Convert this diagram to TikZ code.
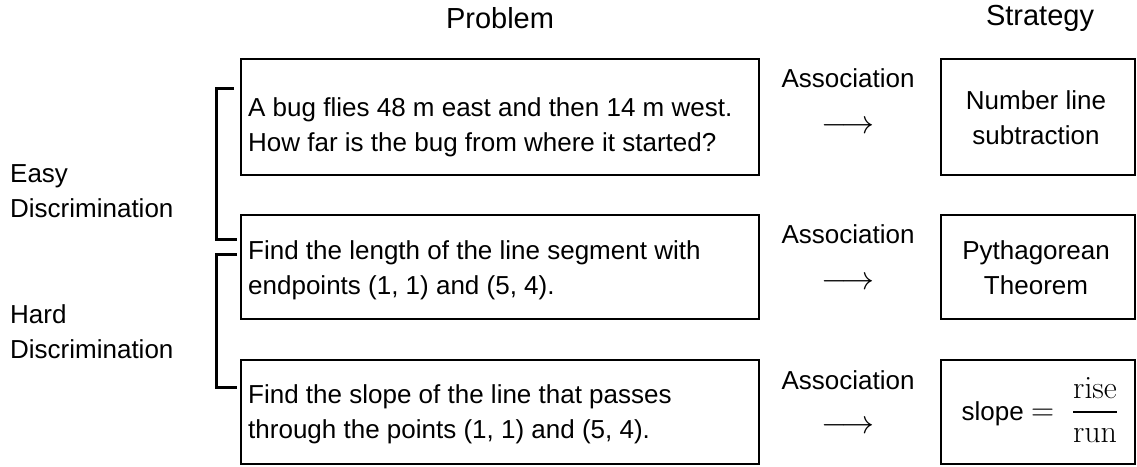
\RequirePackage{fix-cm}
\documentclass[tikz,border=0pt]{standalone}
\usepackage{amsmath}
\usepackage[no-math]{fontspec}
\setmainfont{Liberation Sans}
\begin{document}
\begin{tikzpicture}[x=1pt,y=-1pt,
  box/.style={draw, line width=2pt, inner sep=0pt},
  txt/.style={font=\fontsize{26}{35}\selectfont, inner sep=0pt},
  head/.style={font=\fontsize{29}{35}\selectfont, inner sep=0pt},
  arr/.style={font=\fontsize{33}{35}\selectfont, inner sep=0pt},
  brk/.style={line width=3pt}]
\useasboundingbox (0,0) rectangle (1137,466);

% headers
\node[head] (hp) at (500,18) {Problem};
\node[head] (hs) at (1040,18) {Strategy};

% problem boxes
\node[box, minimum width=518pt, minimum height=116pt] (p1) at (500,117) {};
\node[box, minimum width=518pt, minimum height=104pt] (p2) at (500,267) {};
\node[box, minimum width=518pt, minimum height=104pt] (p3) at (500,412) {};

\node[txt, anchor=west, align=left] (p1t) at (248,127.5) {A bug flies 48 m east and then 14 m west.\\How far is the bug from where it started?};
\node[txt, anchor=west, align=left] (p2t) at (248,270.5) {Find the length of the line segment with\\endpoints (1, 1) and (5, 4).};
\node[txt, anchor=west, align=left] (p3t) at (248,414) {Find the slope of the line that passes\\through the points (1, 1) and (5, 4).};

% strategy boxes
\node[box, minimum width=194pt, minimum height=116pt] (s1) at (1038,117) {};
\node[box, minimum width=194pt, minimum height=104pt] (s2) at (1038,267) {};
\node[box, minimum width=194pt, minimum height=104pt] (s3) at (1038,412) {};

\node[txt, align=center] (s1t) at (1036,117.5) {Number line\\subtraction};
\node[txt, align=center] (s2t) at (1036,268) {Pythagorean\\Theorem};
\node[txt] (s3t) at (1040,410) {slope {\fontsize{32}{35}\selectfont$=\ \genfrac{}{}{1.8pt}{0}{\mathrm{rise}}{\mathrm{run}}$}};

% associations
\node[txt] (a1) at (848,78) {Association};
\node[arr] (r1) at (848,127) {$\longrightarrow$};
\node[txt] (a2) at (848,234) {Association};
\node[arr] (r2) at (848,283) {$\longrightarrow$};
\node[txt] (a3) at (848,380) {Association};
\node[arr] (r3) at (848,427) {$\longrightarrow$};

% left labels
\node[txt, anchor=west, align=left] (easy) at (10,191) {Easy\\Discrimination};
\node[txt, anchor=west, align=left] (hard) at (10,332) {Hard\\Discrimination};

% brackets
\coordinate (e1) at (234,88);
\coordinate (e2) at (216,88);
\coordinate (e3) at (216,239);
\coordinate (e4) at (237,239);
\draw[brk] (e1) -- (e2) -- (e3) -- (e4);
\coordinate (h1) at (237,254);
\coordinate (h2) at (216,254);
\coordinate (h3) at (216,387);
\coordinate (h4) at (237,387);
\draw[brk] (h1) -- (h2) -- (h3) -- (h4);
\end{tikzpicture}
\end{document}
